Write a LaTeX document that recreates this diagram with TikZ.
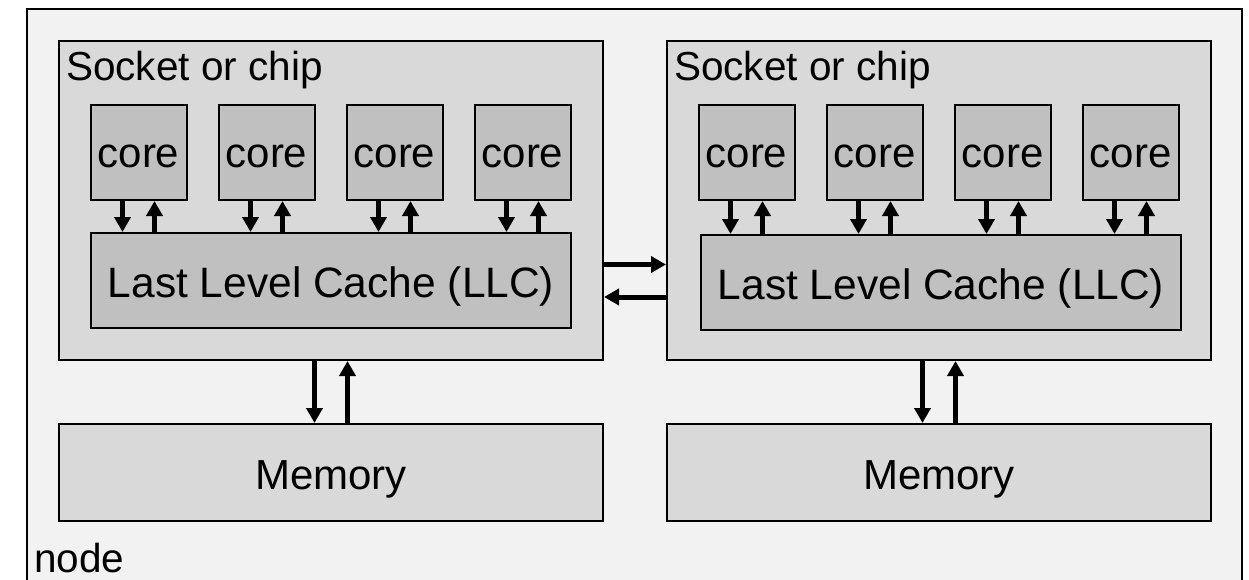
\documentclass[tikz,border=0pt]{standalone}
\usepackage{fontspec}
\setmainfont{Liberation Sans}
\usetikzlibrary{arrows.meta}
\definecolor{outerfill}{HTML}{F2F2F2}
\definecolor{sockfill}{HTML}{D9D9D9}
\definecolor{corefill}{HTML}{C0C0C0}
\tikzset{
  box/.style={draw=black, line width=2pt, rectangle, inner sep=0pt, anchor=north west,
    font=\fontsize{42}{50}\selectfont},
  outerbox/.style={box, fill=outerfill},
  sockbox/.style={box, fill=sockfill, minimum width=544pt, minimum height=319pt},
  corebox/.style={box, fill=corefill, minimum width=96pt, minimum height=95pt, text height=30pt, text depth=0pt},
  llcbox/.style={box, fill=corefill, minimum width=480pt, minimum height=95pt, text height=33pt, text depth=0pt,
    font=\fontsize{42.5}{50}\selectfont},
  membox/.style={box, fill=sockfill, minimum width=544pt, minimum height=97pt, text height=33pt, text depth=0pt},
  lbl/.style={inner sep=0pt, anchor=base west, font=\fontsize{40.5}{49}\selectfont},
  arr/.style={line width=5pt, -{Triangle[length=15pt 0 0,width=16pt 0 0]}},
  bigarr/.style={line width=5pt, -{Triangle[length=15pt 0 0,width=16pt 0 0]}},
}
\begin{document}
\begin{tikzpicture}[x=1pt,y=-1pt]
\useasboundingbox (0,0) rectangle (1249,580);
\clip (0,0) rectangle (1249,580);
\fill[white] (0,0) rectangle (1249,580);
% outer node box
\node[outerbox, minimum width=1215pt, minimum height=600pt] (outer) at (26,8) {};
\node[lbl] (nodelbl) at (34,572) {node};
% sockets
\node[sockbox] (sockL) at (58,40) {};
\node[sockbox] (sockR) at (666,40) {};
\node[lbl] (sockLlbl) at (66,81) {Socket or chip};
\node[lbl] (sockRlbl) at (674,81) {Socket or chip};
% memories
\node[membox] (memL) at (58,423) {Memory};
\node[membox] (memR) at (666,423) {Memory};
% LLCs
\node[llcbox] (llcL) at (90,232) {Last Level Cache (LLC)};
\node[llcbox] (llcR) at (700,234) {Last Level Cache (LLC)};
% cores
\foreach \i in {1,...,4}{
  \node[corebox] (cL\i) at ({89.5+128*(\i-1)},104) {core};
  \node[corebox] (cR\i) at ({697.5+128*(\i-1)},104) {core};
  \draw[arr] ([xshift=-16pt]cL\i.south) -- ([xshift=-16pt]cL\i.south |- llcL.north);
  \draw[arr] ([xshift=16pt]cL\i.south |- llcL.north) -- ([xshift=16pt]cL\i.south);
  \draw[arr] ([xshift=-16pt]cR\i.south) -- ([xshift=-16pt]cR\i.south |- llcR.north);
  \draw[arr] ([xshift=16pt]cR\i.south |- llcR.north) -- ([xshift=16pt]cR\i.south);
}
% socket to socket
\draw[bigarr] ([yshift=-64pt]sockL.east) -- ([yshift=-64pt]sockL.east -| sockR.west);
\draw[bigarr] ([yshift=-96.5pt]sockR.west) -- ([yshift=-96.5pt]sockR.west -| sockL.east);
% socket to memory
\draw[arr] ([xshift=-16.5pt]sockL.south) -- ([xshift=-16.5pt]sockL.south |- memL.north);
\draw[arr] ([xshift=16.5pt]sockL.south |- memL.north) -- ([xshift=16.5pt]sockL.south);
\draw[arr] ([xshift=-16.5pt]sockR.south) -- ([xshift=-16.5pt]sockR.south |- memR.north);
\draw[arr] ([xshift=16.5pt]sockR.south |- memR.north) -- ([xshift=16.5pt]sockR.south);
\end{tikzpicture}
\end{document}
